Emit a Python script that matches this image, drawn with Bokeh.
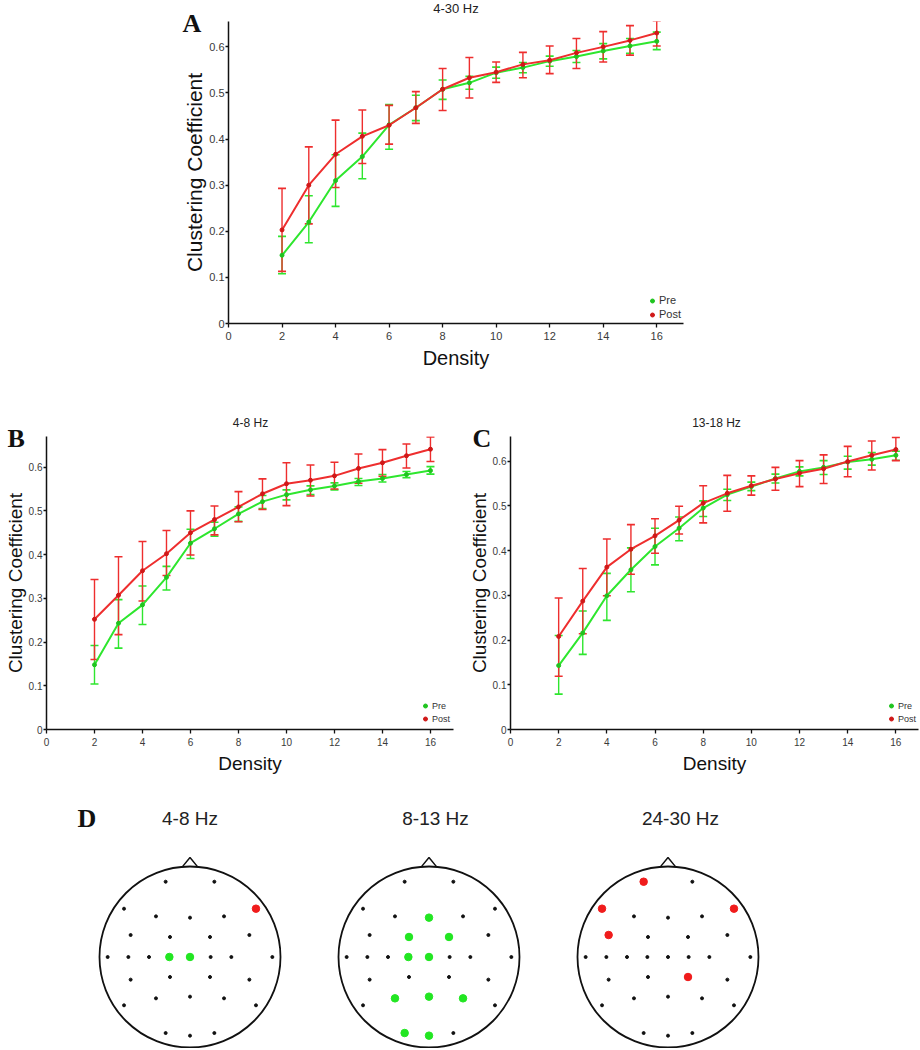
from bokeh.plotting import figure
from bokeh.models import (ColumnDataSource, Whisker, TeeHead, Label, Legend, LegendItem,
                          FixedTicker, NumeralTickFormatter, Spacer)
from bokeh.layouts import column, row
from bokeh.embed import file_html
from bokeh.resources import INLINE

# ---------------- data ----------------
DENSITY = [2, 3, 4, 5, 6, 7, 8, 9, 10, 11, 12, 13, 14, 15, 16]
X_TICKS = [0, 2, 4, 6, 8, 10, 12, 14, 16]
Y_TICKS = [0, 0.1, 0.2, 0.3, 0.4, 0.5, 0.6]

A_PRE_MEAN = [0.148, 0.220, 0.310, 0.362, 0.431, 0.468, 0.508, 0.522, 0.544, 0.555, 0.569, 0.579, 0.591, 0.602, 0.612]
A_PRE_HI = [0.189, 0.277, 0.366, 0.413, 0.475, 0.495, 0.528, 0.536, 0.556, 0.566, 0.580, 0.592, 0.607, 0.618, 0.632]
A_PRE_LO = [0.108, 0.175, 0.254, 0.314, 0.378, 0.440, 0.486, 0.508, 0.532, 0.544, 0.558, 0.566, 0.574, 0.586, 0.594]
A_POST_MEAN = [0.203, 0.300, 0.367, 0.406, 0.430, 0.468, 0.508, 0.533, 0.545, 0.562, 0.571, 0.587, 0.600, 0.614, 0.630]
A_POST_HI = [0.293, 0.383, 0.441, 0.463, 0.473, 0.503, 0.553, 0.577, 0.567, 0.588, 0.602, 0.618, 0.633, 0.646, 0.656]
A_POST_LO = [0.113, 0.216, 0.295, 0.347, 0.389, 0.434, 0.462, 0.489, 0.523, 0.533, 0.542, 0.553, 0.567, 0.582, 0.602]

B_PRE_MEAN = [0.148, 0.243, 0.285, 0.348, 0.426, 0.459, 0.493, 0.521, 0.537, 0.548, 0.557, 0.567, 0.574, 0.583, 0.592]
B_PRE_HI = [0.192, 0.297, 0.328, 0.373, 0.458, 0.474, 0.509, 0.535, 0.548, 0.557, 0.564, 0.574, 0.583, 0.590, 0.601]
B_PRE_LO = [0.104, 0.186, 0.240, 0.319, 0.391, 0.442, 0.476, 0.505, 0.525, 0.537, 0.548, 0.558, 0.566, 0.576, 0.584]
B_POST_MEAN = [0.252, 0.307, 0.363, 0.402, 0.450, 0.480, 0.509, 0.539, 0.562, 0.570, 0.580, 0.597, 0.610, 0.626, 0.641]
B_POST_HI = [0.343, 0.395, 0.430, 0.455, 0.500, 0.511, 0.544, 0.573, 0.610, 0.605, 0.611, 0.630, 0.640, 0.653, 0.669]
B_POST_LO = [0.160, 0.217, 0.294, 0.352, 0.399, 0.445, 0.475, 0.503, 0.512, 0.534, 0.550, 0.563, 0.579, 0.598, 0.613]

C_PRE_MEAN = [0.143, 0.216, 0.299, 0.357, 0.409, 0.450, 0.495, 0.525, 0.543, 0.561, 0.577, 0.586, 0.598, 0.604, 0.613]
C_PRE_HI = [0.210, 0.265, 0.349, 0.406, 0.450, 0.475, 0.511, 0.537, 0.553, 0.571, 0.587, 0.601, 0.611, 0.619, 0.622]
C_PRE_LO = [0.079, 0.168, 0.244, 0.308, 0.368, 0.422, 0.476, 0.512, 0.534, 0.551, 0.567, 0.570, 0.582, 0.591, 0.602]
C_POST_MEAN = [0.208, 0.287, 0.363, 0.403, 0.433, 0.468, 0.506, 0.528, 0.545, 0.560, 0.573, 0.583, 0.599, 0.613, 0.626]
C_POST_HI = [0.294, 0.360, 0.426, 0.458, 0.471, 0.499, 0.545, 0.568, 0.567, 0.586, 0.601, 0.614, 0.633, 0.645, 0.653]
C_POST_LO = [0.119, 0.214, 0.299, 0.347, 0.394, 0.437, 0.462, 0.488, 0.524, 0.535, 0.543, 0.550, 0.565, 0.580, 0.601]

SERIES_NAMES = ["Pre", "Post"]

# electrode montage (unit head radius)
ELEC_X = [-0.269, 0.269,
          -0.729, 0.729,
          -0.376, 0.0, 0.376,
          -0.656, -0.221, 0.221, 0.656,
          -0.910, -0.681, -0.453, -0.228, 0.0, 0.228, 0.457, 0.910,
          -0.656, -0.221, 0.221, 0.656,
          -0.376, 0.0, 0.376,
          -0.729, 0.729,
          -0.269, 0.0, 0.269]
ELEC_Y = [0.832, 0.832,
          0.534, 0.534,
          0.449, 0.435, 0.449,
          0.243, 0.221, 0.221, 0.243,
          0.0, 0.0, 0.0, 0.0, 0.0, 0.0, 0.0, 0.0,
          -0.250, -0.221, -0.221, -0.250,
          -0.457, -0.438, -0.457,
          -0.534, -0.534,
          -0.840, -0.869, -0.840]
HEAD_RADIUS = 1.0
NOSE_X = [-0.085, 0.0, 0.085]
NOSE_Y = [0.996, 1.100, 0.996]

MAP_TITLES = ["4-8 Hz", "8-13 Hz", "24-30 Hz"]
MAP_GREEN = [[14, 15], [5, 8, 9, 14, 15, 23, 24, 25, 28, 29], []]
MAP_RED = [[3], [], [0, 2, 3, 7, 21]]

# ---------------- style ----------------
GREEN = "#2ee62e"
RED = "#ee2e2e"
GREEN_DOT = "#1fc41f"
RED_DOT = "#d01818"
SANS = "Liberation Sans"
SERIF = "Liberation Serif"


def text_label(text, x, y, font, size, bold=False, align="left"):
    return Label(x=x, y=y, x_units="screen", y_units="screen", text=text,
                 text_align=align, text_baseline="alphabetic",
                 text_font=font, text_font_style="bold" if bold else "normal",
                 text_font_size=f"{size}px", text_color="#111111" if bold else "#222222")


def line_panel(pre, post, x_end, y_end, fw, fh, mb, tick_fs, lab_fs, xlab_fs,
               legend_xy, legend_fs, legend_spacing):
    p = figure(frame_width=fw, frame_height=fh, x_range=(0, x_end), y_range=(0, y_end),
               min_border_left=mb[0], min_border_right=mb[1], min_border_top=mb[2],
               min_border_bottom=mb[3], output_backend="svg", toolbar_location=None)
    p.grid.visible = False
    p.outline_line_color = None
    p.background_fill_color = "white"
    p.border_fill_color = "white"

    renderers = []
    for data, color, dot in ((pre, GREEN, GREEN_DOT), (post, RED, RED_DOT)):
        mean, lo, hi = data
        src = ColumnDataSource(dict(x=DENSITY, mean=mean, lo=lo, hi=hi))
        w = Whisker(source=src, base="x", upper="hi", lower="lo",
                    line_color=color, line_width=1.4,
                    upper_head=TeeHead(size=8, line_color=color, line_width=1.6),
                    lower_head=TeeHead(size=8, line_color=color, line_width=1.6))
        p.add_layout(w)
        p.line("x", "mean", source=src, line_color=color, line_width=2)
        r = p.scatter("x", "mean", source=src, size=4, fill_color=dot, line_color=dot)
        renderers.append(r)

    for ax in (p.xaxis[0], p.yaxis[0]):
        ax.axis_line_color = "#111111"
        ax.axis_line_width = 1.5
        ax.major_tick_line_color = "#111111"
        ax.major_tick_line_width = 1.3
        ax.major_tick_in = 0
        ax.major_tick_out = 4
        ax.minor_tick_line_color = None
        ax.major_label_text_font = SANS
        ax.major_label_text_font_size = f"{tick_fs}px"
        ax.major_label_text_color = "#3a3a3a"
        ax.axis_label_text_font = SANS
        ax.axis_label_text_font_style = "normal"
        ax.axis_label_text_color = "#111111"
    p.xaxis.ticker = FixedTicker(ticks=X_TICKS)
    p.yaxis.ticker = FixedTicker(ticks=Y_TICKS)
    p.xaxis.formatter = NumeralTickFormatter(format="0")
    p.yaxis.formatter = NumeralTickFormatter(format="0.[0]")
    p.xaxis.major_label_standoff = 4
    p.yaxis.major_label_standoff = 1
    p.yaxis.major_tick_out = 3
    p.xaxis.axis_label = "Density"
    p.yaxis.axis_label = "Clustering Coefficient"
    p.xaxis.axis_label_text_font_size = f"{xlab_fs}px"
    p.yaxis.axis_label_text_font_size = f"{lab_fs}px"
    p.xaxis.axis_label_standoff = 4
    p.yaxis.axis_label_standoff = 0

    legend = Legend(items=[LegendItem(label=SERIES_NAMES[0], renderers=[renderers[0]]),
                           LegendItem(label=SERIES_NAMES[1], renderers=[renderers[1]])],
                    location=legend_xy, orientation="vertical",
                    glyph_width=10, glyph_height=13, label_height=13, label_standoff=2,
                    spacing=legend_spacing, padding=0, margin=0,
                    border_line_color=None, background_fill_alpha=0,
                    label_text_font=SANS, label_text_font_size=f"{legend_fs}px",
                    label_text_color="#333333")
    p.add_layout(legend)
    return p


# Panel A (letter in the left side panel, title above)
pA = line_panel((A_PRE_MEAN, A_PRE_LO, A_PRE_HI), (A_POST_MEAN, A_POST_LO, A_POST_HI),
                17, 0.655, 455, 302, (80, 20, 21, 50), 11, 21, 20, (419, 2.5), 11, 1)
pA.add_layout(text_label("4-30 Hz", 227.5, 13, SANS, 13, align="center"), "above")
pA.add_layout(text_label("A", 21, 300, SERIF, 26, bold=True), "left")

# Panels B and C (title closest to frame, letter above it)
pB = line_panel((B_PRE_MEAN, B_PRE_LO, B_PRE_HI), (B_POST_MEAN, B_POST_LO, B_POST_HI),
                16.96, 0.67, 407, 293, (46, 11, 63, 50), 10, 19, 19, (374, 3.8), 9, 0)
pB.add_layout(text_label("4-8 Hz", 204, 14, SANS, 12, align="center"), "above")
pB.add_layout(text_label("B", -39, -16, SERIF, 26, bold=True), "above")

pC = line_panel((C_PRE_MEAN, C_PRE_LO, C_PRE_HI), (C_POST_MEAN, C_POST_LO, C_POST_HI),
                16.94, 0.655, 408, 293, (46, 2, 63, 50), 10, 19, 19, (376, 3.8), 9, 0)
pC.add_layout(text_label("13-18 Hz", 206, 14, SANS, 12, align="center"), "above")
pC.add_layout(text_label("C", -38, -16, SERIF, 26, bold=True), "above")


def head_map(title, greens, reds, title_dx, letter=None):
    w, h, scale, cy = 239, 269, 90.5, 91.5
    p = figure(width=w, height=h, x_range=(-w / 2 / scale, w / 2 / scale),
               y_range=(-cy / scale, (h - cy) / scale), min_border=0,
               x_axis_location=None, y_axis_location=None,
               output_backend="svg", toolbar_location=None)
    p.grid.visible = False
    p.outline_line_color = None
    p.background_fill_color = "white"
    p.border_fill_color = "white"
    p.circle(x=[0], y=[0], radius=HEAD_RADIUS, fill_color=None, line_color="#111111", line_width=1.8)
    p.line(NOSE_X, NOSE_Y, line_color="#111111", line_width=1.5)
    p.scatter(ELEC_X, ELEC_Y, size=3, fill_color="#111111", line_color="#111111")
    if greens:
        p.scatter([ELEC_X[i] for i in greens], [ELEC_Y[i] for i in greens], size=7.5,
                  fill_color="#22e622", line_color="#22e622")
    if reds:
        p.scatter([ELEC_X[i] for i in reds], [ELEC_Y[i] for i in reds], size=7.5,
                  fill_color="#f01c1c", line_color="#f01c1c")
    p.add_layout(text_label(title, w / 2 + title_dx, 230, SANS, 19, align="center"))
    if letter:
        p.add_layout(text_label(letter, 7, 230, SERIF, 26, bold=True))
    return p


heads = [head_map(MAP_TITLES[i], MAP_GREEN[i], MAP_RED[i], [0, 6.5, 12.5][i], "D" if i == 0 else None)
         for i in range(3)]

layout = column(
    row(Spacer(width=148, height=373), pA),
    row(pB, pC),
    row(Spacer(width=70, height=269), *heads),
)

open("out.html", "w").write(file_html(layout, INLINE))
